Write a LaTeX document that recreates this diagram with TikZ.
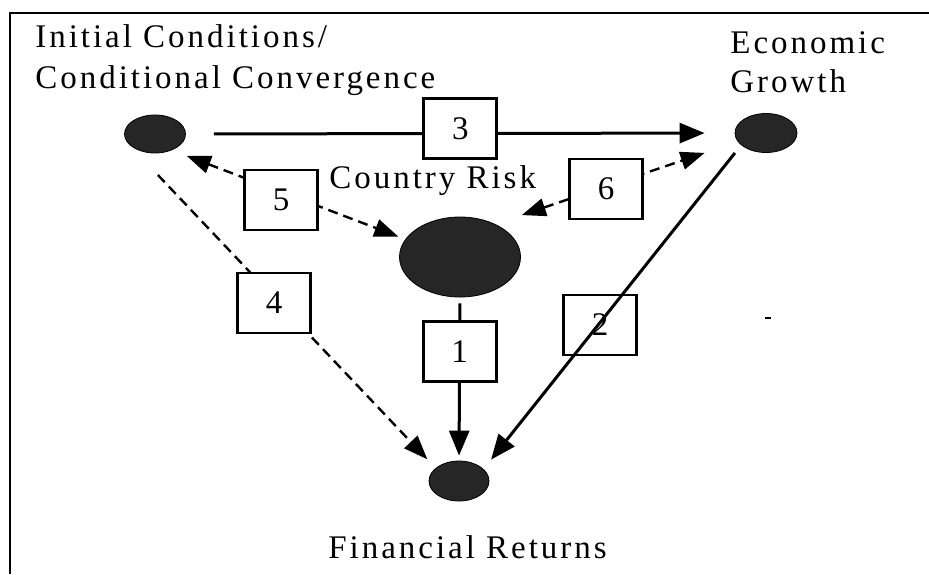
\documentclass[tikz,border=0pt]{standalone}
\usepackage{fontspec}
\setmainfont{Liberation Serif}[LetterSpace=9]
\usetikzlibrary{arrows.meta,shapes.geometric}

\begin{document}
\begin{tikzpicture}
[
 x=0.5pt, y=-0.5pt,
 inner sep=0pt,
 BLOB/.style={ellipse, draw=black, fill=black!85, thin},
 NUMBOX/.style={rectangle, draw=black, fill=white, line width=1.4pt, minimum width=36.5pt, minimum height=30pt, font=\fontsize{16.5}{20}\selectfont},
 LABEL/.style={font=\fontsize{16.5}{20}\selectfont, anchor=base west},
 SOLIDARR/.style={line width=1.5pt, -{Triangle[length=12.5pt,width=10pt]}},
 DASHARR/.style={line width=1.2pt, dash pattern=on 5pt off 3pt, -{Triangle[length=12pt,width=9pt]}},
 DASHTWO/.style={line width=1.2pt, dash pattern=on 5pt off 3pt, {Triangle[length=12pt,width=9pt]}-{Triangle[length=12pt,width=9pt]}},
 ]
%
\useasboundingbox (0,0) rectangle (929,574);
\draw [line width=1.2pt] (10,574) -- (10,13) -- (929,13);
%
\node [BLOB, minimum width=30.5pt, minimum height=19pt]  (IC)  at (155,134) {};
\node [BLOB, minimum width=31pt,   minimum height=19.5pt] (EG) at (766,133) {};
\node [BLOB, minimum width=60.5pt, minimum height=40pt]  (CR)  at (460,257) {};
\node [BLOB, minimum width=30pt,   minimum height=20pt]  (FR)  at (459,481) {};
%
\node [LABEL] (ICa) at (35,47)  {Initial Conditions/};
\node [LABEL] (ICb) at (35,88)  {Conditional Convergence};
\node [LABEL] (EGa) at (730,53) {Economic};
\node [LABEL] (EGb) at (730,92) {Growth};
\node [LABEL] (CRa) at (329,188) {Country Risk};
\node [LABEL] (FRa) at (328,558) {Financial Returns};
%
\draw [SOLIDARR, shorten <=14pt, shorten >=15pt] (IC.east) -- (EG.west)
      node [NUMBOX, midway, yshift=2.5pt] (B3) {3};
\draw [SOLIDARR, shorten <=3pt, shorten >=2.5pt] (CR.south) -- (FR.north)
      node [NUMBOX, pos=0.33] (B1) {1};
%
\node [NUMBOX] (B2) at (600,325) {2};
\draw [SOLIDARR, shorten <=5pt, shorten >=6pt] (EG.206) -- (FR.26);
%
\draw [DASHARR, shorten <=21.5pt, shorten >=6pt] (IC.200) -- (FR.151);
\node [NUMBOX] (B4) at (274,303) {4};
%
\draw [DASHTWO, shorten <=8pt, shorten >=3.75pt] (IC.316) -- (CR.162);
\node [NUMBOX] (B5) at (281,200) {5};
%
\draw [DASHTWO, shorten <=14pt, shorten >=17.5pt] (CR.43) -- (EG.197);
\node [NUMBOX] (B6) at (606,189) {6};
%
\fill (765,317) rectangle (771,319);
%
\end{tikzpicture}
\end{document}
